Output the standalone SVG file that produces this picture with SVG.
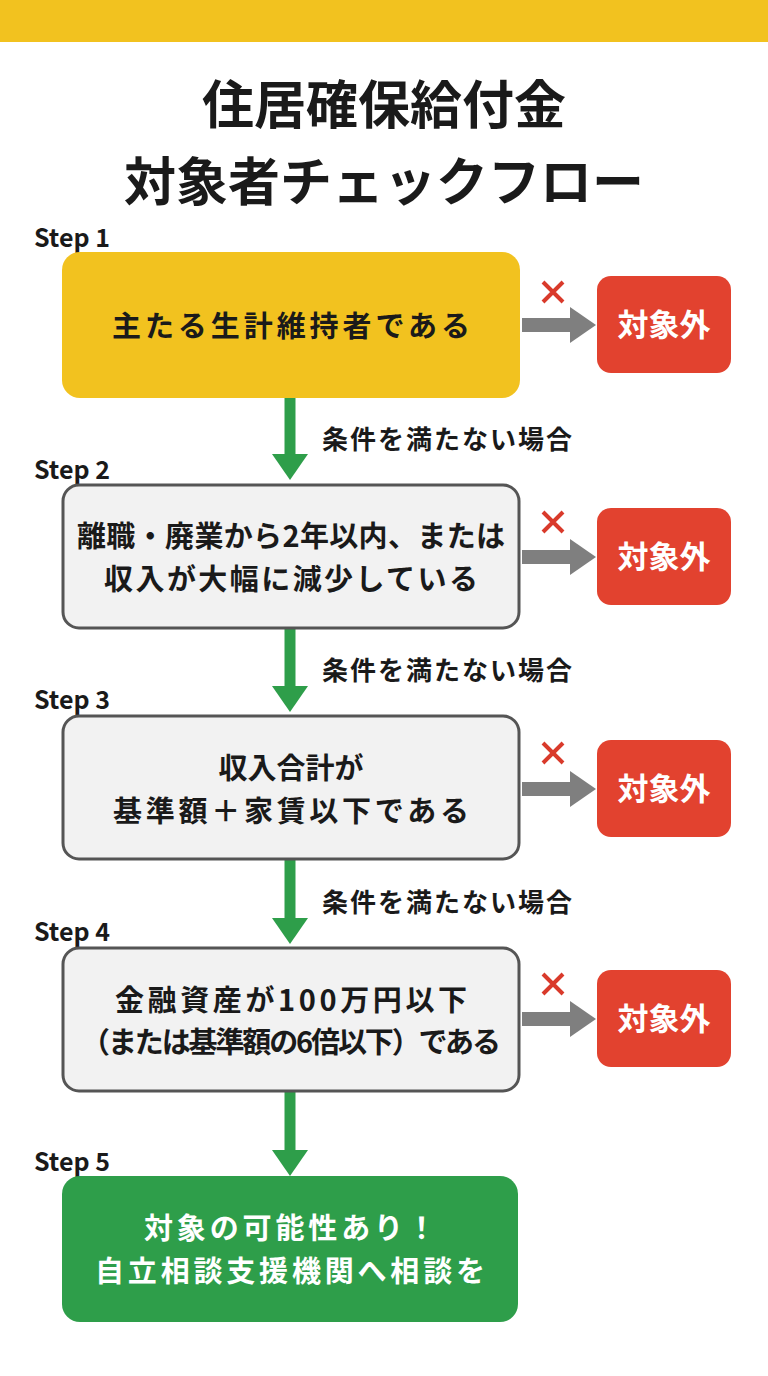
<svg xmlns="http://www.w3.org/2000/svg" width="768" height="1376" viewBox="0 0 768 1376">
<style>
text{font-family:"Noto Sans CJK JP","Noto Sans",sans-serif;font-weight:bold;fill:#1a1a1a}
.t{font-size:52px}
.step{font-size:25px}
.b{font-size:29px}
.n{fill:#f2f2f2;stroke:#555;stroke-width:3}
.r{fill:#e2422f}
.rt{font-size:31px;fill:#fff}
.lbl{font-size:26px}
.g{stroke:#2e9e4a;stroke-width:11}
.gh{fill:#2e9e4a}
.gr{stroke:#7f7f7f;stroke-width:14}
.grh{fill:#7f7f7f}
.x{stroke:#d93a2b;stroke-width:4}
</style>
<rect width="768" height="1376" fill="#fff"/>
<rect width="768" height="42" fill="#f2c21f"/>
<text class="t" x="384" y="124" text-anchor="middle">住居確保給付金</text>
<text class="t" x="384" y="201" text-anchor="middle">対象者チェックフロー</text>
<g id="steps">
<text class="step" x="34" y="247">Step 1</text>
<text class="step" x="34" y="479">Step 2</text>
<text class="step" x="34" y="709">Step 3</text>
<text class="step" x="34" y="941">Step 4</text>
<text class="step" x="34" y="1171">Step 5</text>
</g>
<g id="connectors">
<line class="g" x1="290" y1="398" x2="290" y2="456"/><polygon class="gh" points="272,454 308,454 290,480"/>
<line class="g" x1="290" y1="628" x2="290" y2="688"/><polygon class="gh" points="272,686 308,686 290,712"/>
<line class="g" x1="290" y1="860" x2="290" y2="920"/><polygon class="gh" points="272,918 308,918 290,944"/>
<line class="g" x1="290" y1="1092" x2="290" y2="1152"/><polygon class="gh" points="272,1150 308,1150 290,1176"/>
<text class="lbl" x="322" y="449" textLength="250">条件を満たない場合</text>
<text class="lbl" x="322" y="680" textLength="250">条件を満たない場合</text>
<text class="lbl" x="322" y="912" textLength="250">条件を満たない場合</text>
<g id="no1"><line class="gr" x1="522" y1="325" x2="572" y2="325"/><polygon class="grh" points="570,307 596,325 570,343"/><path class="x" d="M543 282l20 20M563 282l-20 20"/></g>
<g id="no2"><line class="gr" x1="522" y1="557" x2="572" y2="557"/><polygon class="grh" points="570,539 596,557 570,575"/><path class="x" d="M543 512l20 20M563 512l-20 20"/></g>
<g id="no3"><line class="gr" x1="522" y1="789" x2="572" y2="789"/><polygon class="grh" points="570,771 596,789 570,807"/><path class="x" d="M543 743l20 20M563 743l-20 20"/></g>
<g id="no4"><line class="gr" x1="522" y1="1019" x2="572" y2="1019"/><polygon class="grh" points="570,1001 596,1019 570,1037"/><path class="x" d="M543 974l20 20M563 974l-20 20"/></g>
</g>
<g id="n1"><rect x="62" y="252" width="458" height="146" rx="18" fill="#f2c21f"/><text class="b" x="291" y="337" text-anchor="middle" textLength="358">主たる生計維持者である</text></g>
<g id="n2"><rect class="n" x="63" y="485" width="456" height="143" rx="16"/><text class="b" x="291" y="547" text-anchor="middle" textLength="428">離職・廃業から2年以内、または</text><text class="b" x="291" y="590" text-anchor="middle" textLength="374">収入が大幅に減少している</text></g>
<g id="n3"><rect class="n" x="63" y="716" width="456" height="143" rx="16"/><text class="b" x="291" y="779" text-anchor="middle">収入合計が</text><text class="b" x="291" y="822" text-anchor="middle" textLength="356">基準額＋家賃以下である</text></g>
<g id="n4"><rect class="n" x="63" y="948" width="456" height="143" rx="16"/><text class="b" x="291" y="1011" text-anchor="middle" textLength="352">金融資産が100万円以下</text><text class="b" x="291" y="1053" text-anchor="middle" textLength="420">（または基準額の6倍以下）である</text></g>
<g id="n5"><rect x="62" y="1176" width="456" height="146" rx="18" fill="#2e9e4a"/><text class="b" x="290" y="1239" text-anchor="middle" style="fill:#fff" textLength="292">対象の可能性あり！</text><text class="b" x="290" y="1282" text-anchor="middle" style="fill:#fff" textLength="390">自立相談支援機関へ相談を</text></g>
<g id="o1"><rect class="r" x="597" y="276" width="134" height="97" rx="14"/><text class="rt" x="664" y="336" text-anchor="middle">対象外</text></g>
<g id="o2"><rect class="r" x="597" y="508" width="134" height="97" rx="14"/><text class="rt" x="664" y="568" text-anchor="middle">対象外</text></g>
<g id="o3"><rect class="r" x="597" y="740" width="134" height="97" rx="14"/><text class="rt" x="664" y="800" text-anchor="middle">対象外</text></g>
<g id="o4"><rect class="r" x="597" y="970" width="134" height="97" rx="14"/><text class="rt" x="664" y="1030" text-anchor="middle">対象外</text></g>
</svg>
